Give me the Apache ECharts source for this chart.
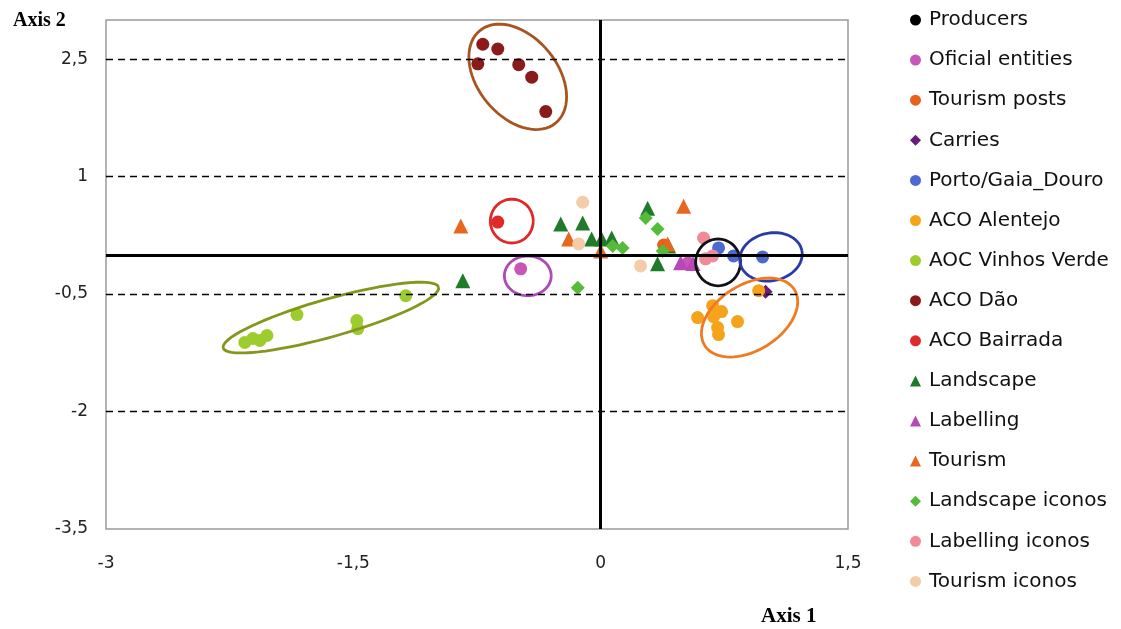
<!DOCTYPE html>
<html>
<head>
<meta charset="utf-8">
<script src="https://cdn.jsdelivr.net/npm/echarts@6/dist/echarts.min.js"></script>
<style>html,body{margin:0;padding:0;background:#fff}#c{width:1121px;height:629px}</style>
</head>
<body>
<div id="c"></div>
<script>
// ---- data (Axis 1, Axis 2) ----
var seriesNames = ['Producers','Oficial entities','Tourism posts','Carries','Porto/Gaia_Douro','ACO Alentejo','AOC Vinhos Verde','ACO Dão','ACO Bairrada','Landscape','Labelling','Tourism','Landscape iconos','Labelling iconos','Tourism iconos'];
var producers = [];
var oficialEntities = [[-0.485,-0.178],[0.53,-0.10]];
var tourismPosts = [[0.382,0.127]];
var carries = [[1.0,-0.47]];
var portoGaiaDouro = [[0.715,0.089],[0.806,-0.013],[0.982,-0.025]];
var acoAlentejo = [[0.588,-0.80],[0.679,-0.648],[0.685,-0.788],[0.709,-0.928],[0.715,-1.017],[0.733,-0.724],[0.830,-0.851],[0.958,-0.457]];
var aocVinhosVerde = [[-2.158,-1.118],[-2.109,-1.067],[-2.067,-1.093],[-2.024,-1.029],[-1.842,-0.762],[-1.479,-0.839],[-1.473,-0.940],[-1.182,-0.521]];
var acoDao = [[-0.715,2.69],[-0.624,2.63],[-0.745,2.44],[-0.497,2.43],[-0.418,2.27],[-0.333,1.83]];
var acoBairrada = [[-0.624,0.42]];
var landscape = [[-0.836,-0.33],[-0.242,0.394],[-0.109,0.407],[-0.055,0.203],[0.006,0.203],[0.067,0.216],[0.285,0.597],[0.345,-0.114],[0.412,0.114]];
var labelling = [[0.485,-0.10],[0.56,-0.11]];
var tourism = [[-0.848,0.368],[-0.194,0.203],[0.0,0.05],[0.503,0.623],[0.406,0.14]];
var landscapeIconos = [[-0.139,-0.42],[0.073,0.114],[0.133,0.089],[0.273,0.47],[0.345,0.33],[0.376,0.05]];
var labellingIconos = [[0.624,0.216],[0.636,-0.05],[0.679,-0.013]];
var tourismIconos = [[-0.109,0.673],[0.242,-0.14],[-0.133,0.14]];
// ellipses: centre (cx,cy) and two conjugate semi-diameters (u, v) in axis units
var ellipses = [
  [-0.503, 2.274, 0.229, -0.592, -0.188, -0.320],
  [-1.636, -0.800, 0.653, 0.388, 0.0313, -0.232],
  [-0.539, 0.432, 0.130, 0, 0, 0.280],
  [-0.442, -0.267, 0.142, 0, 0, 0.254],
  [0.712, -0.095, 0.136, 0, 0, 0.299],
  [1.033, -0.025, 0.187, 0.083, 0.030, -0.298],
  [0.903, -0.800, 0.272, 0.357, 0.106, -0.356]
];
var xTicks = [-3, -1.5, 0, 1.5];
var yTicks = [-3.5, -2, -0.5, 1, 2.5];
var yGridLines = [2.5, 1, -0.5, -2];

// ---- styles ----
var seriesData = [producers, oficialEntities, tourismPosts, carries, portoGaiaDouro, acoAlentejo, aocVinhosVerde, acoDao, acoBairrada, landscape, labelling, tourism, landscapeIconos, labellingIconos, tourismIconos];
var colors = ['#000000','#c855b8','#e8601c','#6a1a7a','#4a6ad0','#f5a31a','#9ccc2e','#8b1a1a','#e02a2a','#1f7a2a','#b848b8','#e8661e','#55bb3a','#f08a98','#f4cca8'];
var symbols = ['circle','circle','circle','diamond','circle','circle','circle','circle','circle','triangle','triangle','triangle','diamond','circle','circle'];
var sizes = [13,13,13,14,13,13,13,13,13,15,15,15,14,13,13];
var ellipseColors = ['#a8541e','#86961c','#e02828','#b048b8','#111111','#2a3aaa','#f07a20'];

function fmt(v){ return String(v).replace('.', ','); }

var series = [];
series.push({
  name: '_axes', type: 'scatter', data: [], silent: true, z: 1,
  markLine: {
    silent: true, symbol: 'none', label: {show: false}, animation: false,
    data: yGridLines.map(function(v){ return {yAxis: v, lineStyle: {color: '#000', type: [7,5], width: 1.3}}; })
      .concat([{yAxis: 0, lineStyle: {color: '#000', type: 'solid', width: 3}},
               {xAxis: 0, lineStyle: {color: '#000', type: 'solid', width: 3}}])
  }
});
for (var i = 0; i < seriesNames.length; i++) {
  series.push({
    name: seriesNames[i], type: 'scatter', data: seriesData[i], z: 2,
    symbol: symbols[i], symbolSize: sizes[i],
    itemStyle: {color: colors[i], opacity: 1}
  });
}
series.push({
  name: '_ellipses', type: 'custom', data: ellipses, z: 3, silent: true, clip: false,
  renderItem: function(params, api){
    var cx = api.value(0), cy = api.value(1), ux = api.value(2), uy = api.value(3), vx = api.value(4), vy = api.value(5);
    var pts = [];
    for (var k = 0; k <= 72; k++) {
      var t = k / 72 * Math.PI * 2;
      pts.push(api.coord([cx + ux*Math.cos(t) + vx*Math.sin(t), cy + uy*Math.cos(t) + vy*Math.sin(t)]));
    }
    return {type: 'polyline', shape: {points: pts}, style: {stroke: ellipseColors[params.dataIndex], lineWidth: 2.8, fill: null}};
  }
});

var chart = echarts.init(document.getElementById('c'), null, {renderer: 'canvas'});
chart.setOption({
  animation: false,
  backgroundColor: '#ffffff',
  grid: {left: 106, right: 273, top: 20, bottom: 100, show: true, borderColor: '#9a9a9a', borderWidth: 1.5, backgroundColor: 'transparent'},
  xAxis: {
    type: 'value', min: -3, max: 1.5, interval: 1.5,
    axisLine: {show: false}, axisTick: {show: false}, splitLine: {show: false},
    axisLabel: {margin: 26, color: '#222', fontFamily: 'DejaVu Sans', fontSize: 17,
      formatter: function(v){ return xTicks.indexOf(v) >= 0 ? fmt(v) : ''; }}
  },
  yAxis: {
    type: 'value', min: -3.5, max: 3, interval: 1.5,
    axisLine: {show: false}, axisTick: {show: false}, splitLine: {show: false},
    axisLabel: {margin: 18, color: '#222', fontFamily: 'DejaVu Sans', fontSize: 17, showMaxLabel: false,
      formatter: function(v){ return yTicks.indexOf(v) >= 0 ? fmt(v) : ''; }}
  },
  legend: {
    orient: 'vertical', left: 905, top: 5, data: seriesNames,
    itemWidth: 11, itemHeight: 11, itemGap: 20.1,
    textStyle: {fontFamily: 'DejaVu Sans', fontSize: 20, color: '#111', lineHeight: 20, padding: [0,0,0,3]},
    selectedMode: false
  },
  graphic: [
    {type: 'text', left: 13, top: 11, style: {text: 'Axis 2', font: 'bold 20px "Liberation Serif"', fill: '#000'}},
    {type: 'text', left: 761, top: 606, style: {text: 'Axis 1', font: 'bold 21px "Liberation Serif"', fill: '#000'}}
  ],
  series: series
});
</script>
</body>
</html>
